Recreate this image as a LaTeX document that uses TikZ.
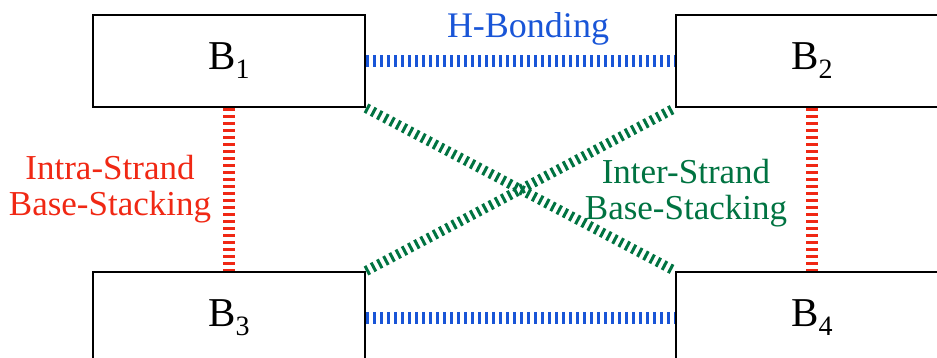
\documentclass[tikz,border=0pt]{standalone}
\usepackage{fontspec}
\setmainfont{Liberation Serif}
\definecolor{hblue}{RGB}{25,85,215}
\definecolor{sred}{RGB}{240,40,20}
\definecolor{sgreen}{RGB}{0,115,65}
\newcommand{\bsub}[1]{B\raisebox{-9pt}{\fontsize{28}{28}\selectfont #1}}
\begin{document}
\begin{tikzpicture}[x=1pt,y=1pt,
  base/.style={draw=black,line width=2pt,minimum width=272pt,minimum height=92pt,inner sep=0pt,font=\fontsize{41}{41}\selectfont,fill=white},
  ladder/.style={line width=12pt,dash pattern=on 3pt off 4pt},
  lab/.style={font=\fontsize{35}{36}\selectfont,align=center,inner sep=0pt}]
\useasboundingbox (0,0) rectangle (937,-358);
\clip (0,0) rectangle (937,-358);
\node[base] (B1) at (229,-61) {\bsub{1}};
\node[base] (B2) at (812,-61) {\bsub{2}};
\node[base] (B3) at (229,-318) {\bsub{3}};
\node[base] (B4) at (812,-318) {\bsub{4}};
\draw[ladder,hblue] (B1) -- (B2);
\draw[ladder,hblue] (B3) -- (B4);
\draw[ladder,sred] (B1) -- (B3);
\draw[ladder,sred] (B2) -- (B4);
\draw[ladder,sgreen,line width=10pt] (B1.south east) -- (B4.north west);
\draw[ladder,sgreen,line width=10pt] (B3.north east) -- (B2.south west);
\node[lab,text=hblue,font=\fontsize{36}{36}\selectfont] (hb) at (528,-29) {H-Bonding};
\node[lab,text=sred] (intra) at (110,-189) {Intra-Strand\\Base-Stacking};
\node[lab,text=sgreen] (inter) at (686,-193) {Inter-Strand\\Base-Stacking};
\end{tikzpicture}
\end{document}
